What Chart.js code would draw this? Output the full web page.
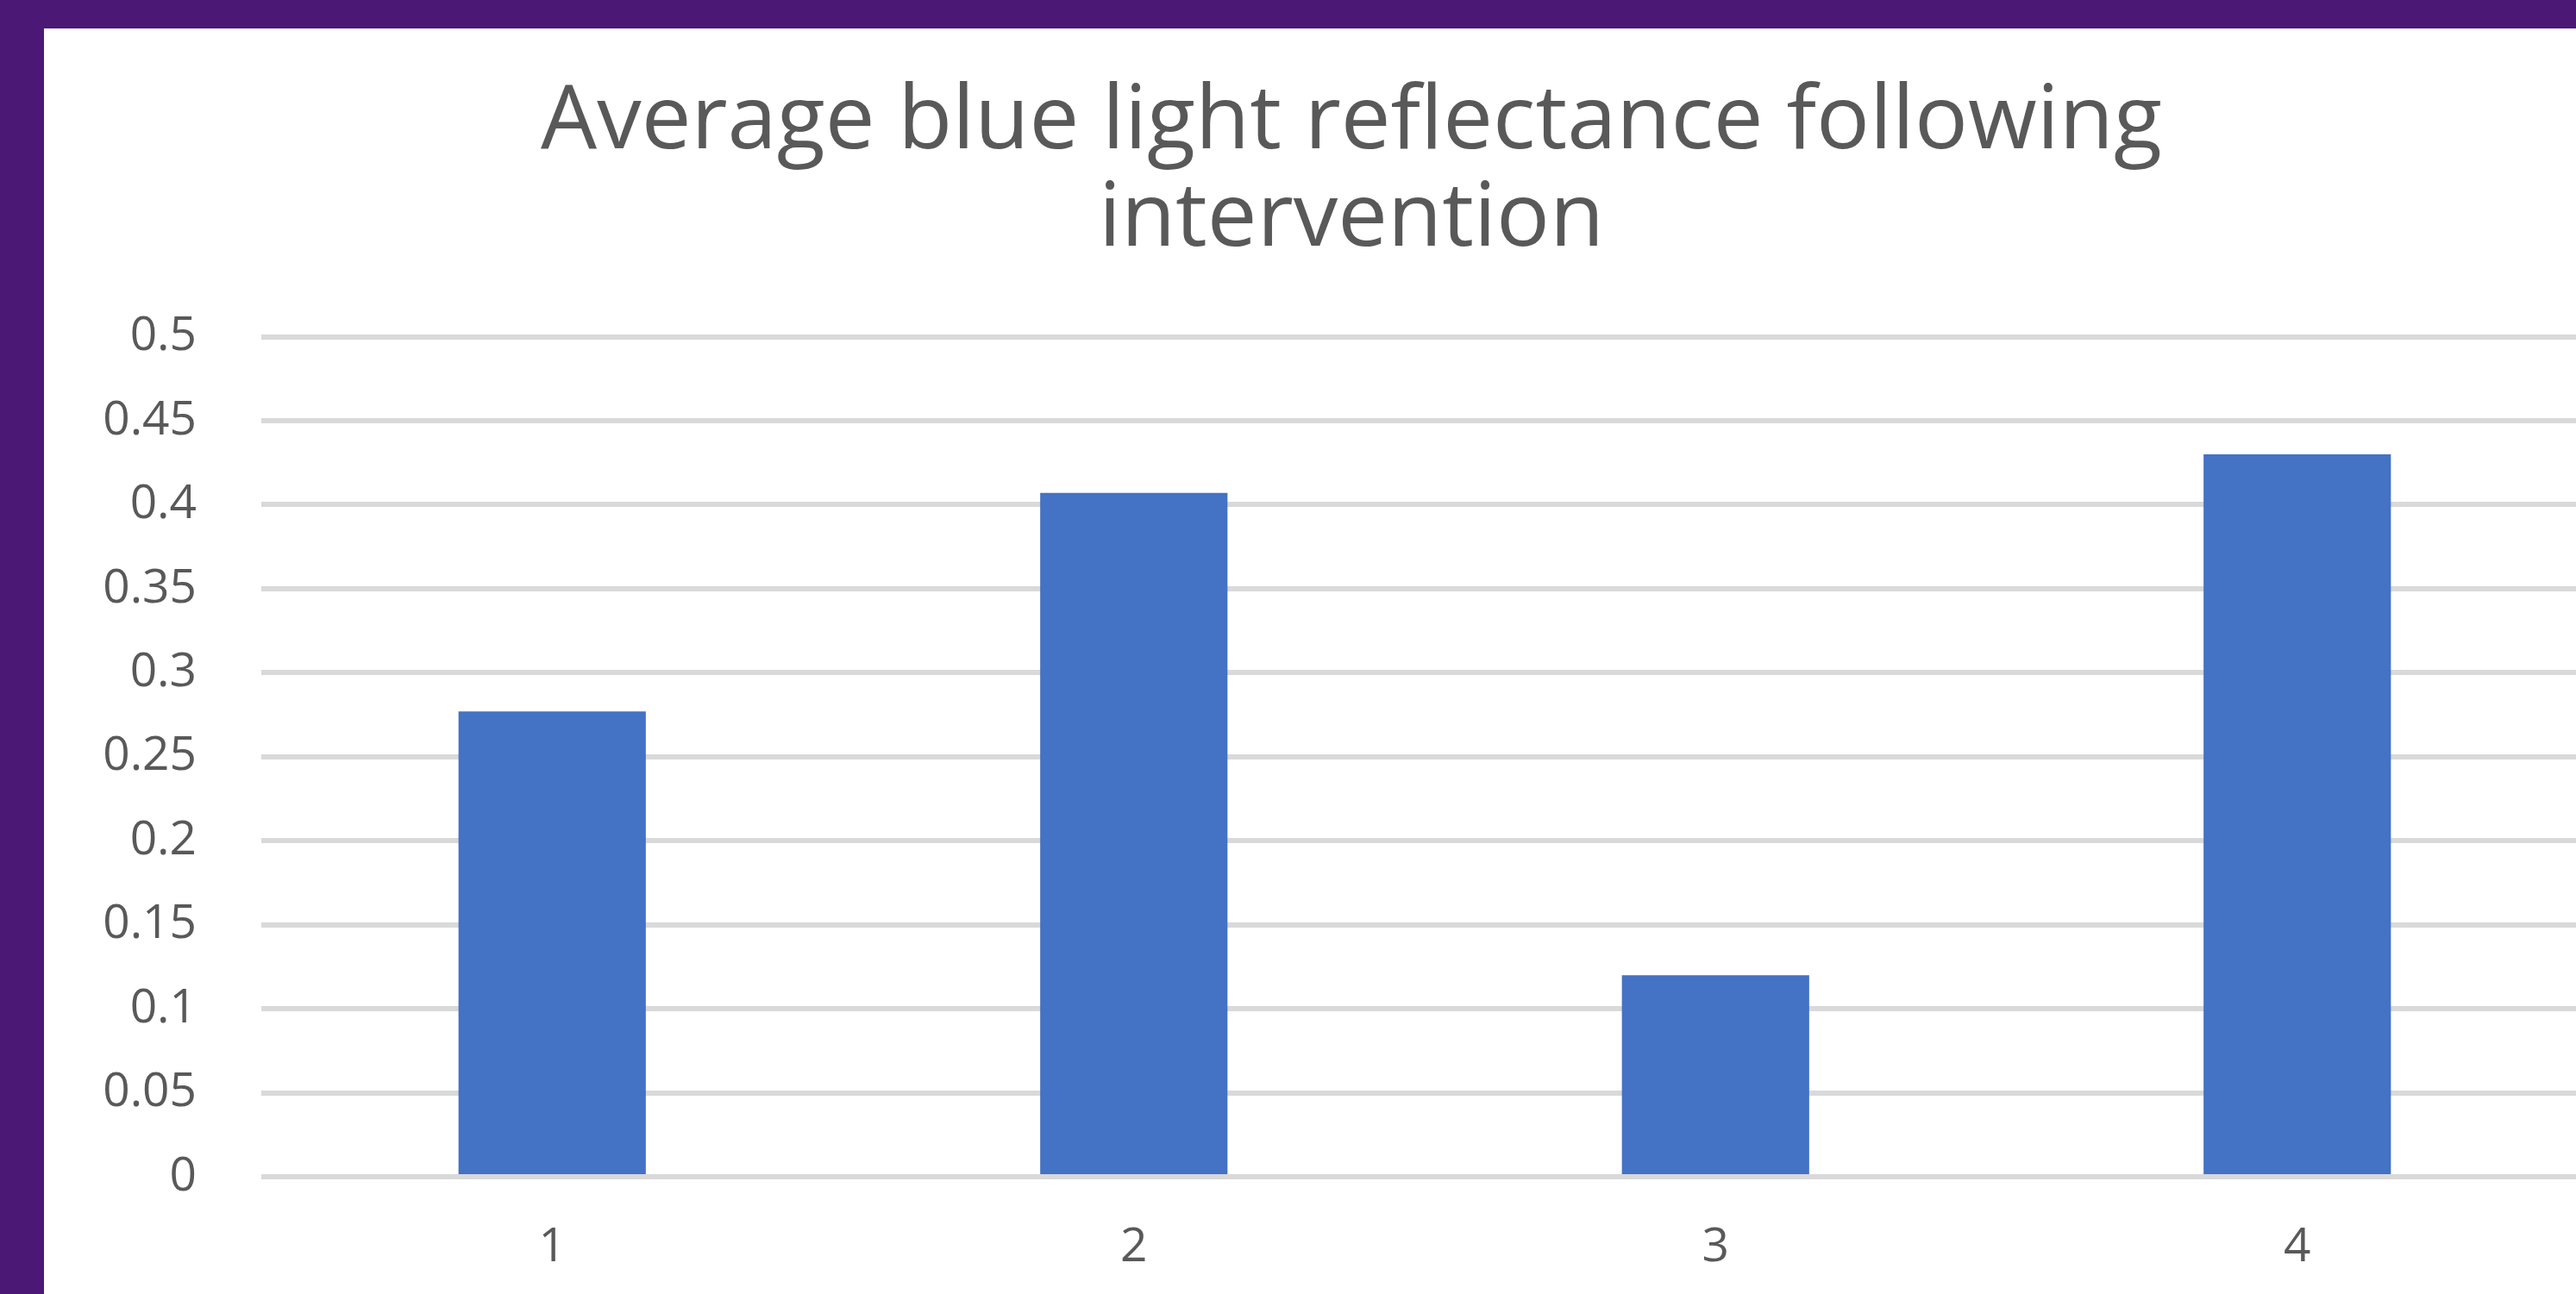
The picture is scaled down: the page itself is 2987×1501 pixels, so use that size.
<!DOCTYPE html>
<html>
<head>
<meta charset="utf-8">
<title>Average blue light reflectance following intervention</title>
<script src="https://cdn.jsdelivr.net/npm/chart.js@4/dist/chart.umd.min.js"></script>
<style>
  html, body { margin: 0; padding: 0; width: 2987px; height: 1501px; overflow: hidden; background: #4b1975; }
  #frame { position: absolute; left: 51px; top: 33px; width: 3032px; height: 1468px; background: #ffffff; }
  canvas { display: block; }
</style>
</head>
<body>
<div id="frame"><canvas id="chart" width="3032" height="1468"></canvas></div>
<script>
// Chart content
const titleLines = ['Average blue light reflectance following', 'intervention'];
const categories = ['1', '2', '3', '4'];
const reflectance = [0.277, 0.407, 0.12, 0.43];
const yTicks = [0, 0.05, 0.1, 0.15, 0.2, 0.25, 0.3, 0.35, 0.4, 0.45, 0.5];
const yTickLabels = ['0', '0.05', '0.1', '0.15', '0.2', '0.25', '0.3', '0.35', '0.4', '0.45', '0.5'];

const textGrey = '#595959';
const fontFamily = '"Open Sans", "DejaVu Sans", sans-serif';

// Centre the title on the whole chart frame rather than on the padded layout box.
const fullWidthTitle = {
  id: 'fullWidthTitle',
  afterLayout(chart) {
    if (chart.titleBlock) {
      chart.titleBlock.left = 0;
      chart.titleBlock.right = chart.width;
    }
  }
};

new Chart(document.getElementById('chart'), {
  type: 'bar',
  data: {
    labels: categories,
    datasets: [{
      data: reflectance,
      backgroundColor: '#4472c4',
      borderWidth: 0,
      barPercentage: 0.322,
      categoryPercentage: 1.0
    }]
  },
  plugins: [fullWidthTitle],
  options: {
    responsive: false,
    animation: false,
    devicePixelRatio: 1,
    layout: { padding: { left: 0, right: 82, top: 0, bottom: 0 } },
    plugins: {
      legend: { display: false },
      tooltip: { enabled: false },
      title: {
        display: true,
        text: titleLines,
        color: textGrey,
        font: { family: fontFamily, size: 103, weight: '400', lineHeight: 1.1 },
        padding: { top: 53, bottom: 78 }
      }
    },
    scales: {
      x: {
        grid: { display: false, drawTicks: false },
        border: { display: false },
        ticks: {
          color: textGrey,
          font: { family: fontFamily, size: 55 },
          padding: 49,
          maxRotation: 0
        },
        afterFit(scale) { scale.height = 136; }
      },
      y: {
        min: 0,
        max: 0.5,
        afterBuildTicks(scale) { scale.ticks = yTicks.map(v => ({ value: v })); },
        grid: { color: '#d9d9d9', lineWidth: 6, drawTicks: false },
        border: { display: false },
        ticks: {
          color: textGrey,
          font: { family: fontFamily, size: 55 },
          padding: 75,
          callback(value) {
            const i = yTicks.findIndex(t => Math.abs(t - value) < 1e-9);
            return i >= 0 ? yTickLabels[i] : '';
          }
        },
        afterFit(scale) { scale.width = 252; }
      }
    }
  }
});
</script>
</body>
</html>
